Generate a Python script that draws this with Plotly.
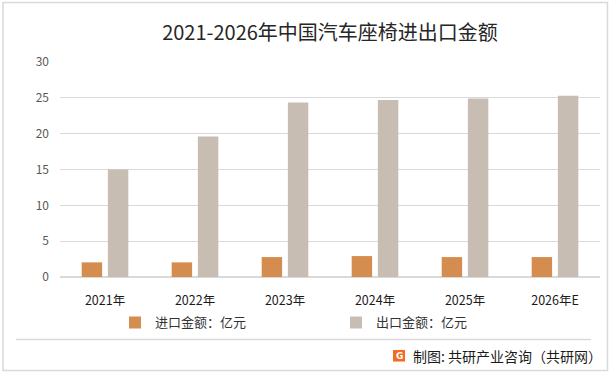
import plotly.graph_objects as go

categories = ["2021年", "2022年", "2023年", "2024年", "2025年", "2026年E"]
import_values = [2.04, 2.04, 2.78, 2.92, 2.78, 2.78]
export_values = [15.0, 19.6, 24.35, 24.7, 24.9, 25.3]
series_names = ["进口金额：亿元", "出口金额：亿元"]
y_ticks = [0, 5, 10, 15, 20, 25, 30]
title_text = "2021-2026年中国汽车座椅进出口金额"
source_text = "制图: 共研产业咨询（共研网）"

CJK = "Noto Sans CJK SC"
W, H = 614, 375
ML, MR, MT, MB = 60, 14, 62.3, 98.3

fig = go.Figure()
fig.add_trace(go.Bar(x=categories, y=import_values, name=series_names[0],
                     marker=dict(color="#D48C4F", line=dict(width=0))))
fig.add_trace(go.Bar(x=categories, y=export_values, name=series_names[1],
                     marker=dict(color="#C7BDB2", line=dict(width=0))))

ph = H - MT - MB
def py(ypix):
    return (H - MB - ypix) / ph
def px(xpix):
    return (xpix - ML) / (W - ML - MR)

fig.update_layout(
    width=W, height=H,
    margin=dict(l=ML, r=MR, t=MT, b=MB, pad=0),
    paper_bgcolor="white", plot_bgcolor="white",
    barmode="group", bargap=0.418, bargroupgap=0.22,
    font=dict(family=CJK, size=12, color="#333333"),
    title=dict(text=title_text, x=0.5, xanchor="center", xref="paper",
               y=1 - 33 / H, yanchor="middle", yref="container",
               font=dict(family=CJK, size=20, color="#262626")),
    showlegend=True,
    legend=dict(orientation="h", x=px(115), xanchor="left", y=py(322), yanchor="middle",
                font=dict(family=CJK, size=13, color="#333333"),
                entrywidth=176, entrywidthmode="pixels", itemwidth=30,
                bgcolor="rgba(0,0,0,0)", borderwidth=0),
    xaxis=dict(showgrid=False, showline=True, linecolor="#D9D9D9", linewidth=1,
               ticks="", tickfont=dict(family=CJK, size=12.5, color="#1a1a1a"),
               ticklabelstandoff=12),
    yaxis=dict(range=[0, 30], tickvals=y_ticks, showgrid=True, gridcolor="#D9D9D9",
               gridwidth=1, zeroline=True, zerolinecolor="#D9D9D9", showline=False,
               ticks="", tickfont=dict(family=CJK, size=12, color="#595959"),
               ticklabelstandoff=10),
)

# outer border and separator line
fig.add_shape(type="rect", xref="paper", yref="paper",
              x0=px(3), x1=px(607.5), y0=py(370), y1=py(3),
              line=dict(color="#D9D9D9", width=1.5), fillcolor="rgba(0,0,0,0)", layer="below")
fig.add_shape(type="line", xref="paper", yref="paper",
              x0=px(16), x1=px(591), y0=py(339), y1=py(339),
              line=dict(color="#D9D9D9", width=1.5))

# source logo and text
fig.add_shape(type="rect", xref="paper", yref="paper",
              x0=px(393), x1=px(405), y0=py(361), y1=py(349.5),
              line=dict(width=0), fillcolor="#F26B21")
fig.add_annotation(text="<b>G</b>", xref="paper", yref="paper", x=px(399), y=py(355.5),
                   showarrow=False, font=dict(family="DejaVu Sans", size=9, color="white"),
                   xanchor="center", yanchor="middle")
fig.add_annotation(text=source_text, xref="paper", yref="paper", x=px(411), y=py(355),
                   showarrow=False, xanchor="left", yanchor="middle",
                   font=dict(family=CJK, size=14, color="#1a1a1a"))

fig.write_html("out.html", config={"displayModeBar": False},
               post_script="document.body.style.margin='0';document.body.style.overflow='hidden';")
